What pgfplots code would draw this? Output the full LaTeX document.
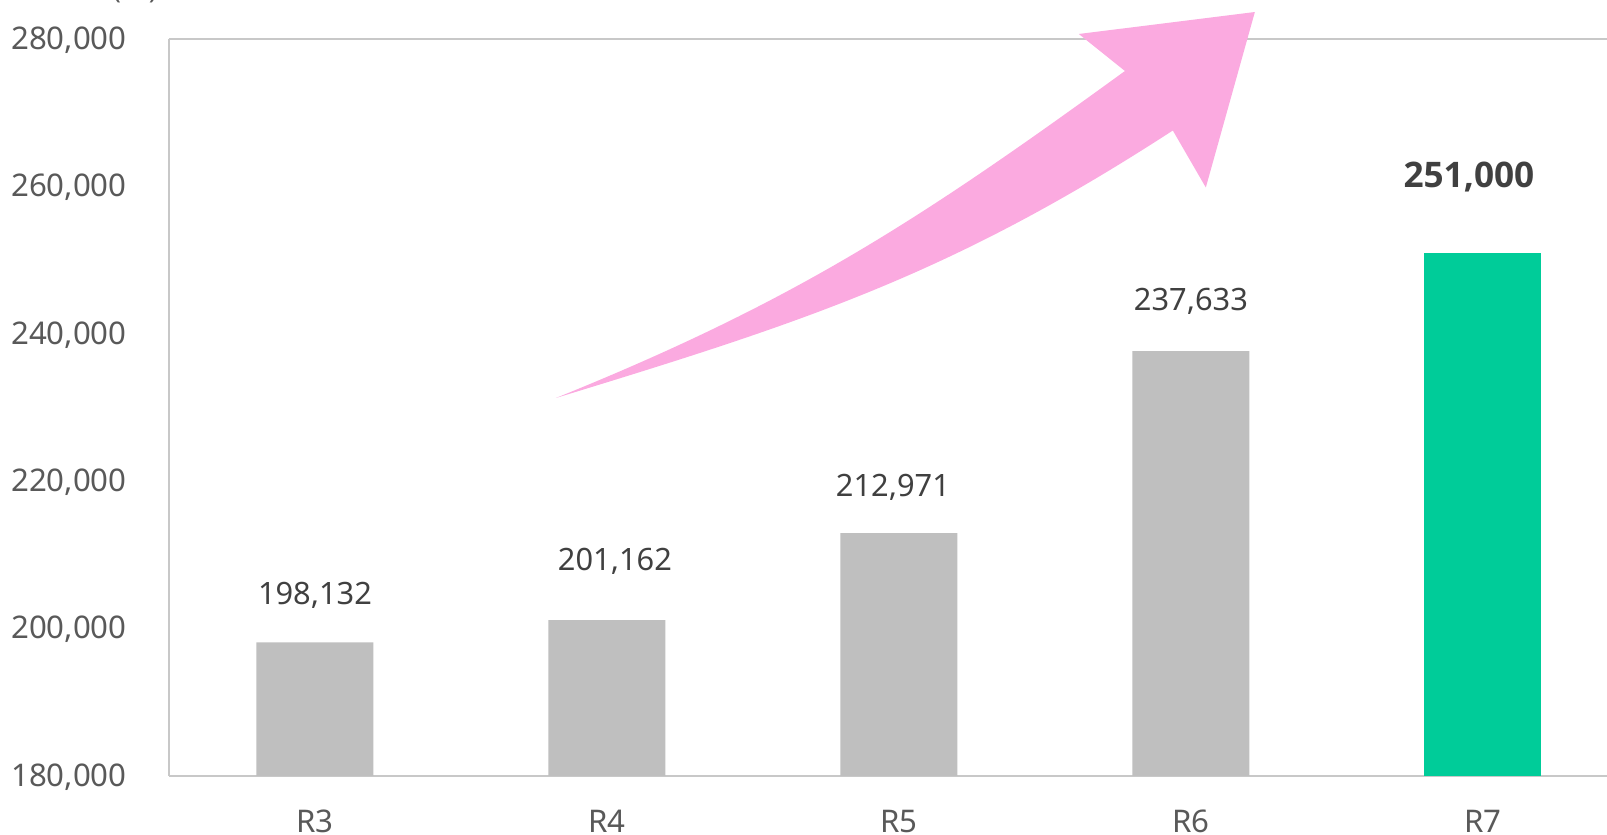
\documentclass[border=0pt]{standalone}
\usepackage{pgfplots}
\pgfplotsset{compat=1.18}
\usepackage{fontspec}
\setmainfont{Noto Sans}
\newfontfamily\cjk{Noto Sans CJK JP}
\newfontfamily\bnum{Open Sans}
\definecolor{barGray}{HTML}{BFBFBF}
\definecolor{barGreen}{HTML}{00CC99}
\definecolor{arrowPink}{HTML}{FBAAE0}
\definecolor{axGray}{HTML}{C8C8C8}
\definecolor{tickGray}{HTML}{595959}
\definecolor{lblGray}{HTML}{404040}
\begin{document}
\begin{tikzpicture}
\begin{axis}[
  scale only axis,
  width=719pt, height=368.5pt,
  xmin=-0.5, xmax=4.425,
  ymin=180000, ymax=280000,
  ytick={180000,200000,220000,240000,260000,280000},
  xtick={0,1,2,3,4},
  xticklabels={R3,R4,R5,R6,R7},
  axis lines=left,
  axis line style={-, axGray, line width=1pt},
  major tick length=0pt,
  /pgf/number format/assume math mode=true,
  /pgf/number format/.cd, fixed, 1000 sep={,}, /pgfplots/.cd,
  yticklabel style={anchor=east, inner sep=0pt, xshift=-21pt, yshift=-0.5pt, font=\fontsize{15.6}{18}\selectfont, text=tickGray},
  xticklabel style={anchor=north, inner sep=0pt, yshift=-17pt, font=\fontsize{15.6}{18}\selectfont, text=tickGray},
  scaled y ticks=false,
  clip=false,
  ybar, bar width=58.5pt, bar shift=0pt,
]
\addplot[fill=barGray, draw=none]
  coordinates {(0,198132) (1,201162) (2,212971) (3,237633)};
\addplot[fill=barGreen, draw=none]
  coordinates {(4,251000)};
\draw[axGray, line width=1pt] (rel axis cs:0,1) -- (rel axis cs:1,1);
\begin{scope}[every node/.style={anchor=center, inner sep=0pt, text=lblGray, font=\fontsize{15.4}{18}\selectfont}]
\node at ([shift={(0pt,23.7pt)}]axis cs:0,198132) {198,132};
\node at ([shift={(4pt,29.5pt)}]axis cs:1,201162) {201,162};
\node at ([shift={(-3pt,23pt)}]axis cs:2,212971) {212,971};
\node at ([shift={(0pt,25.2pt)}]axis cs:3,237633) {237,633};
\node[font=\bnum\fontsize{17.6}{20}\selectfont\bfseries] at ([shift={(-7pt,38pt)}]axis cs:4,251000) {251,000};
\end{scope}
\fill[arrowPink] (axis cs:0.825,231289) to[out=17,in=213] (axis cs:2.938,267585)
  -- (axis cs:3.051,259851) -- (axis cs:3.219,283663) -- (axis cs:2.616,280679)
  -- (axis cs:2.774,275658) to[out=216,in=22] (axis cs:0.825,231289) -- cycle;
\coordinate (O) at (rel axis cs:0,0);
\coordinate (T) at (rel axis cs:0,1);
\end{axis}
\node[anchor=south, inner sep=0pt, text=tickGray, font=\fontsize{14}{16}\selectfont] at ([shift={(-17pt,18pt)}]T) {(\cjk 人\normalfont)};
\pgfresetboundingbox
\path[use as bounding box] ([shift={(-84.5pt,-29.5pt)}]O) rectangle ++(803.5pt,417.5pt);
\end{tikzpicture}
\end{document}
